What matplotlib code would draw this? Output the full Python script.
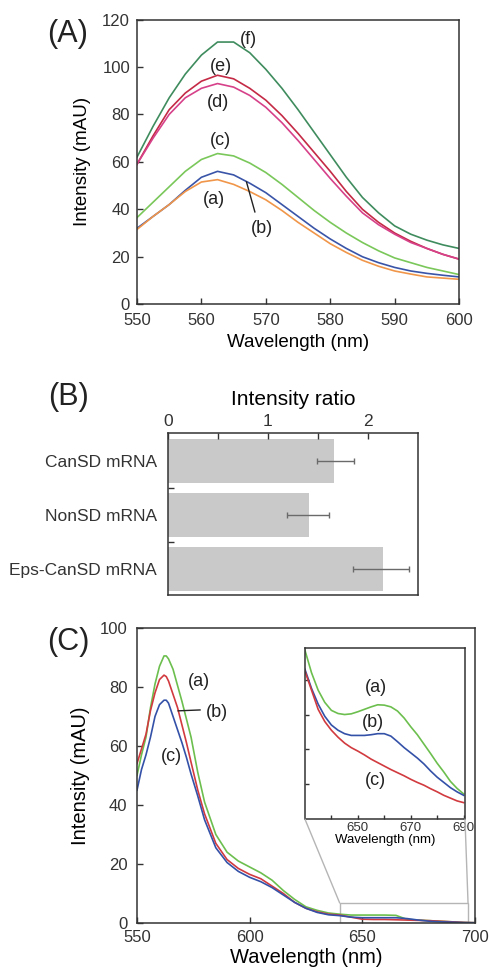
import numpy as np
import matplotlib
matplotlib.use("Agg")
import matplotlib.pyplot as plt
from matplotlib.patches import Rectangle, ConnectionPatch

plt.rcParams.update({
    "font.family": ["Liberation Sans", "DejaVu Sans"],
    "axes.linewidth": 1.1,
    "axes.edgecolor": "#333333",
    "xtick.direction": "in",
    "ytick.direction": "in",
    "xtick.color": "#333333",
    "ytick.color": "#333333",
    "text.color": "#222222",
})

# -----------------------------------------
# Panel A data: emission spectra (a)-(f)
# -----------------------------------------
wl_a = [550, 552.5, 555, 557.5, 560, 562.5, 565, 567.5, 570, 572.5, 575, 577.5, 580,
        582.5, 585, 587.5, 590, 592.5, 595, 597.5, 600]
spec_a = [31.5, 37, 42, 47.5, 51.5, 52.5, 50.5, 47.5, 44, 39.5, 34.5, 30, 25.5,
          21.8, 18.5, 16, 14, 12.7, 11.5, 11, 10.5]
spec_b = [32, 37, 42, 48, 53.5, 56, 54.5, 51, 47, 42, 37, 32, 27.5,
          23.5, 20, 17.5, 15.5, 14, 13, 12.2, 11.5]
spec_c = [36.5, 43, 49.5, 56, 61, 63.5, 62.5, 59.5, 55.5, 50.5, 45, 39.5, 34.5,
          30, 26, 22.5, 19.5, 17.5, 15.5, 14, 12.5]
spec_d = [59, 70, 80, 87, 91, 93, 91.5, 88, 83, 76.5, 69, 61, 53,
          45.5, 38.5, 33.5, 29.5, 26, 23.5, 21, 19]
spec_e = [59, 71, 82, 89, 94, 96.5, 95, 91, 86, 79.5, 72, 64, 56,
          47.5, 40, 34.5, 30, 26.5, 23.5, 21, 19]
spec_f = [62, 75, 87, 97, 105, 110.5, 110.5, 106, 99, 91, 82, 72.5, 63,
          53.5, 45, 38.5, 33, 29.5, 27, 25, 23.5]

# -----------------------------------------
# Panel B data: intensity ratio
# -----------------------------------------
mrna_names = ["CanSD mRNA", "NonSD mRNA", "Eps-CanSD mRNA"]
ratio = [1.66, 1.41, 2.15]
ratio_center = [1.675, 1.40, 2.13]
ratio_err = [0.185, 0.21, 0.28]

# -----------------------------------------
# Panel C data: spectra (a)-(c) + inset
# -----------------------------------------
wl_c = [550, 552, 554, 556, 558, 560, 562, 563, 564, 566, 568, 570, 572, 574, 577, 580,
        585, 590, 595, 600, 605, 610, 615, 620, 625, 630, 635, 640, 645, 650, 655, 660,
        665, 670, 675, 680, 685, 690, 695, 700]
c_a = [50, 57, 63, 73, 81, 87, 90.5, 90.5, 89.5, 86, 80.5, 75, 69, 63, 51, 41,
       30, 24, 21, 19, 17, 14.5, 11, 8, 5.5, 4.3, 3.4, 3.0, 2.7, 2.7, 2.7, 2.7,
       2.6, 1.2, 1.0, 0.8, 0.6, 0.4, 0.2, 0.1]
c_b = [54, 59, 64, 72, 78, 82.5, 84, 83.5, 82, 77.5, 73, 67, 61, 54.5, 45, 37,
       27, 21.5, 18.5, 16.5, 15, 12.5, 10, 7, 5, 3.8, 3.0, 2.7, 2.0, 1.3, 1.2, 1.2,
       1.1, 1.0, 0.9, 0.8, 0.6, 0.4, 0.2, 0.1]
c_c = [45, 52, 57, 63, 70, 74, 75.5, 75.5, 74.5, 70, 65.5, 61, 56, 50.5, 43, 35,
       25.5, 20.5, 17.5, 15.5, 14, 12, 9.5, 7, 5, 3.6, 2.8, 2.5, 2.0, 1.8, 1.8, 1.8,
       1.8, 1.5, 1.0, 0.6, 0.4, 0.3, 0.15, 0.1]

wl_ins = [630, 632.5, 635, 637.5, 640, 642.5, 645, 647.5, 650, 652.5, 655, 657.5, 660,
          662.5, 665, 667.5, 670, 672.5, 675, 677.5, 680, 682.5, 685, 687.5, 690]
ins_a = [4.85, 4.2, 3.7, 3.35, 3.12, 3.03, 3.0, 3.02, 3.08, 3.15, 3.22, 3.28, 3.27,
         3.22, 3.1, 2.9, 2.65, 2.42, 2.15, 1.88, 1.6, 1.35, 1.08, 0.88, 0.72]
ins_b = [4.3, 3.75, 3.3, 2.95, 2.7, 2.55, 2.45, 2.4, 2.4, 2.4, 2.42, 2.45, 2.45,
         2.38, 2.22, 2.05, 1.9, 1.75, 1.58, 1.38, 1.2, 1.05, 0.9, 0.78, 0.68]
ins_c = [4.25, 3.7, 3.15, 2.8, 2.55, 2.35, 2.18, 2.05, 1.95, 1.84, 1.72, 1.62, 1.52,
         1.42, 1.33, 1.24, 1.14, 1.05, 0.97, 0.87, 0.78, 0.68, 0.6, 0.52, 0.47]

GREEN = "#6cbf4e"
RED = "#d13a3f"
BLUE = "#3451a8"

fig = plt.figure(figsize=(4.91, 9.75), dpi=100)

# -----------------------------------------
# (A)
# -----------------------------------------
axA = fig.add_axes([0.279, 0.688, 0.656, 0.292])
axA.plot(wl_a, spec_f, color="#3f8c5e", lw=1.2)
axA.plot(wl_a, spec_e, color="#c42a45", lw=1.2)
axA.plot(wl_a, spec_d, color="#d6418a", lw=1.2)
axA.plot(wl_a, spec_c, color="#7ac75a", lw=1.2)
axA.plot(wl_a, spec_b, color="#3a55a8", lw=1.2)
axA.plot(wl_a, spec_a, color="#f0964a", lw=1.2)
axA.set_xlim(550, 600)
axA.set_ylim(0, 120)
axA.set_xticks(range(550, 601, 10))
axA.set_yticks(range(0, 121, 20))
axA.tick_params(labelsize=12, length=4, width=1)
axA.tick_params(axis="x", pad=6)
axA.tick_params(axis="y", pad=5)
axA.set_xlabel("Wavelength (nm)", fontsize=13.5, labelpad=5)
axA.set_ylabel("Intensity (mAU)", fontsize=13.5, labelpad=8)

for txt, x, y in [("(f)", 567.3, 111.5), ("(e)", 563, 100), ("(d)", 562.6, 85),
                  ("(c)", 563, 69), ("(a)", 562, 44), ("(b)", 569.4, 31.7)]:
    axA.text(x, y, txt, fontsize=13, ha="center", va="center")
axA.plot([568.3, 567], [38.9, 51.5], color="#222222", lw=1)

fig.text(0.137, 0.965, "(A)", fontsize=22, ha="center", va="center")

# -----------------------------------------
# (B)
# -----------------------------------------
axB = fig.add_axes([0.342, 0.390, 0.509, 0.166])
ypos = np.arange(len(mrna_names))
axB.barh(ypos, ratio, height=0.815, color="#c9c9c9")
axB.errorbar(ratio_center, ypos, xerr=ratio_err, fmt="none", ecolor="#6a6a6a",
             elinewidth=1, capsize=2, capthick=1)
axB.set_xlim(0, 2.5)
axB.set_ylim(2.48, -0.52)
axB.xaxis.tick_top()
axB.xaxis.set_label_position("top")
axB.set_xticks([0, 1, 2])
axB.set_xticks([0.5, 1.5], minor=True)
axB.set_yticks(ypos)
axB.set_yticklabels(mrna_names)
axB.set_yticks([0.5, 1.5], minor=True)
axB.tick_params(axis="y", which="major", length=0, labelsize=12.5, pad=8)
axB.tick_params(axis="y", which="minor", length=4, width=1)
axB.tick_params(axis="x", which="both", length=4, width=1, labelsize=12.5, pad=3)
axB.set_xlabel("Intensity ratio", fontsize=15, labelpad=6)

fig.text(0.140, 0.593, "(B)", fontsize=22, ha="center", va="center")

# -----------------------------------------
# (C)
# -----------------------------------------
axC = fig.add_axes([0.279, 0.0533, 0.688, 0.3027])
axC.plot(wl_c, c_a, color=GREEN, lw=1.2)
axC.plot(wl_c, c_b, color=RED, lw=1.2)
axC.plot(wl_c, c_c, color=BLUE, lw=1.2)
axC.set_xlim(550, 700)
axC.set_ylim(0, 100)
axC.set_xticks([550, 600, 650, 700])
axC.set_yticks(range(0, 101, 20))
axC.tick_params(labelsize=12, length=4, width=1)
axC.tick_params(axis="x", pad=5)
axC.tick_params(axis="y", pad=7)
axC.set_xlabel("Wavelength (nm)", fontsize=14.5, labelpad=2)
axC.set_ylabel("Intensity (mAU)", fontsize=14.5, labelpad=7)

axC.text(577.5, 81.8, "(a)", fontsize=13, ha="center", va="center")
axC.text(585.4, 71.3, "(b)", fontsize=13, ha="center", va="center")
axC.text(565.4, 56.4, "(c)", fontsize=13, ha="center", va="center")
axC.plot([578, 568.3], [72.2, 71.9], color="#222222", lw=1)

fig.text(0.139, 0.342, "(C)", fontsize=22, ha="center", va="center")

# zoom box
axC.add_patch(Rectangle((640, 0), 57, 6.8, fill=False, ec="#b5b5b5", lw=1))

axI = fig.add_axes([0.621, 0.160, 0.326, 0.175])
axI.plot(wl_ins, ins_a, color=GREEN, lw=1.2)
axI.plot(wl_ins, ins_b, color=BLUE, lw=1.2)
axI.plot(wl_ins, ins_c, color=RED, lw=1.2)
axI.set_xlim(630, 690.5)
axI.set_ylim(0, 4.9)
axI.set_xticks([650, 670, 690])
axI.set_xticks([640, 660, 680], minor=True)
axI.set_yticks([1, 2, 3, 4])
axI.set_yticklabels([])
axI.tick_params(which="both", length=3, width=1, labelsize=9.5, pad=2)
axI.set_xlabel("Wavelength (nm)", fontsize=9.5, labelpad=0)
axI.text(657, 3.78, "(a)", fontsize=13, ha="center", va="center")
axI.text(655.8, 2.78, "(b)", fontsize=13, ha="center", va="center")
axI.text(656.7, 1.11, "(c)", fontsize=13, ha="center", va="center")

for xa, xb in [(640, 0), (697, 1)]:
    con = ConnectionPatch(xyA=(xa, 6.8), coordsA=axC.transData,
                          xyB=(xb, 0), coordsB=axI.transAxes,
                          color="#b5b5b5", lw=1)
    fig.add_artist(con)

fig.savefig("out.png", dpi=100)
